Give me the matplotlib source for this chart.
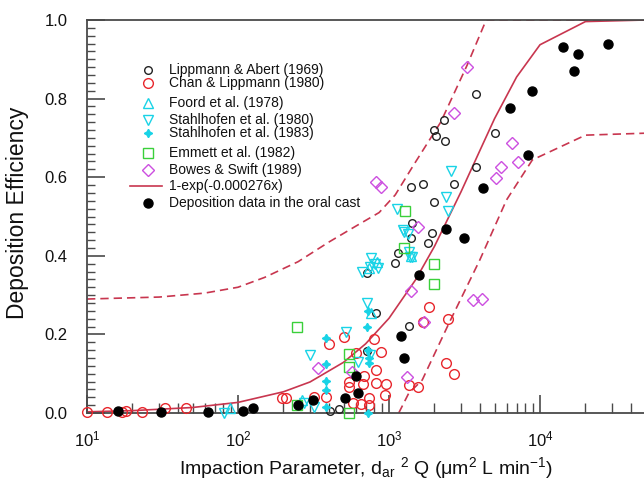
import matplotlib
matplotlib.use('Agg')
import matplotlib.pyplot as plt
from matplotlib.ticker import LogLocator, MultipleLocator, NullFormatter

plt.rcParams['font.family'] = ['Liberation Sans', 'DejaVu Sans']
plt.rcParams['mathtext.fontset'] = 'custom'
plt.rcParams['mathtext.rm'] = 'Liberation Sans'
plt.rcParams['mathtext.it'] = 'Liberation Sans:italic'
plt.rcParams['mathtext.default'] = 'regular'

# --- data ---
lipp_x = [3770, 2300, 2000, 2050, 2350, 5000, 3770, 1400, 1680, 2700, 2000, 1410,
          1400, 1930, 1820, 1150, 1100, 1350, 710, 815, 710, 405, 465]
lipp_y = [0.812, 0.746, 0.720, 0.706, 0.692, 0.712, 0.626, 0.575, 0.583, 0.583, 0.537, 0.483,
          0.445, 0.458, 0.433, 0.407, 0.382, 0.221, 0.356, 0.254, 0.158, 0.005, 0.010]

chan_x = [10, 13.6, 17, 18, 23, 33, 45, 196, 207, 320, 380, 400, 500, 600, 790, 890, 815,
          680, 540, 540, 670, 815, 960, 940, 740, 650, 740, 575, 1840, 1680, 2460, 1350,
          1550, 2400, 2700]
chan_y = [0.003, 0.003, 0.003, 0.005, 0.003, 0.013, 0.013, 0.038, 0.038, 0.040, 0.040, 0.176,
          0.193, 0.153, 0.188, 0.155, 0.109, 0.094, 0.079, 0.066, 0.074, 0.076, 0.074, 0.046,
          0.038, 0.023, 0.020, 0.025, 0.270, 0.232, 0.239, 0.071, 0.066, 0.127, 0.099]

foord_x = [88, 265, 760, 830, 740, 1400]
foord_y = [0.013, 0.033, 0.254, 0.384, 0.370, 0.400]

st80_x = [710, 300, 520, 620, 750, 320, 275, 660, 760, 810, 840, 750, 1130, 1260,
          1420, 1350, 2580, 2400, 2450, 1230, 1330, 1380, 81]
st80_y = [0.280, 0.148, 0.206, 0.130, 0.148, 0.015, 0.025, 0.360, 0.394, 0.380, 0.370, 0.372,
          0.519, 0.460, 0.397, 0.410, 0.616, 0.550, 0.514, 0.466, 0.455, 0.397, 0.0]

st83_x = [380, 380, 380, 380, 380, 725, 720, 730, 740, 740, 730]
st83_y = [0.190, 0.125, 0.082, 0.058, 0.015, 0.260, 0.220, 0.160, 0.140, 0.127, 0.0]

emm_x = [245, 540, 540, 245, 540, 1270, 1250, 2000, 2000]
emm_y = [0.220, 0.150, 0.117, 0.020, 0.0, 0.514, 0.420, 0.379, 0.328]

bowes_x = [3300, 2700, 6500, 7100, 5500, 5100, 820, 890, 1560, 1400, 1700, 3600, 4100,
           1320, 340, 570]
bowes_y = [0.880, 0.763, 0.687, 0.639, 0.626, 0.598, 0.588, 0.575, 0.473, 0.310, 0.232,
           0.288, 0.290, 0.092, 0.115, 0.104]

cast_x = [16, 31, 63, 108, 126, 250, 315, 510, 620, 600, 1200, 1260, 1590, 2400, 3150,
          4200, 6300, 8300, 8900, 14100, 17800, 16800, 28000]
cast_y = [0.005, 0.002, 0.003, 0.004, 0.013, 0.020, 0.033, 0.038, 0.050, 0.094, 0.196,
          0.140, 0.351, 0.468, 0.445, 0.573, 0.776, 0.656, 0.819, 0.931, 0.913, 0.870, 0.939]

# fitted curve 1-exp(-0.000276x) and its bounds
fit_x = [10, 20, 50, 100, 200, 300, 500, 700, 1000, 1500, 2000, 3000, 4000, 5000, 7000,
         10000, 20000, 50000]
fit_y = [0.003, 0.006, 0.014, 0.027, 0.054, 0.079, 0.129, 0.176, 0.241, 0.339, 0.424,
         0.563, 0.668, 0.749, 0.855, 0.937, 0.996, 1.0]
up_x = [10, 30, 60, 100, 150, 250, 400, 600, 860, 1100, 1450, 2200, 3300, 4400, 50000]
up_y = [0.29, 0.295, 0.305, 0.32, 0.345, 0.385, 0.435, 0.475, 0.51, 0.555, 0.63, 0.74,
        0.886, 1.0, 1.0]
lo_x = [1160, 1350, 1660, 2500, 4000, 6000, 8900, 20000, 50000]
lo_y = [0.0, 0.05, 0.084, 0.229, 0.39, 0.542, 0.644, 0.707, 0.712]

CURVE = '#c8364f'
CYAN = '#19d3e6'
RED = '#e8262c'
GREEN = '#3ad03a'
MAG = '#cc4fe0'

fig = plt.figure(figsize=(6.44, 4.84), dpi=100)
ax = fig.add_axes([87 / 644, 71 / 484, 557 / 644, 393 / 484])

ax.plot(fit_x, fit_y, color=CURVE, lw=1.2, zorder=2)
ax.plot(up_x, up_y, color=CURVE, lw=1.2, ls=(0, (5, 3)), zorder=2)
ax.plot(lo_x, lo_y, color=CURVE, lw=1.2, ls=(0, (5, 3)), zorder=2)

mk = dict(ls='none', mfc='none', clip_on=False, zorder=3)
ax.plot(chan_x, chan_y, 'o', mec=RED, ms=7, mew=1.0, **mk)
ax.plot(lipp_x, lipp_y, 'o', mec='#222222', ms=5.5, mew=1.0, **mk)
ax.plot(foord_x, foord_y, '^', mec=CYAN, ms=7, mew=1.0, **mk)
ax.plot(st80_x, st80_y, 'v', mec=CYAN, ms=7, mew=1.0, **mk)
ax.plot(st83_x, st83_y, marker=(4, 1, 0), ls='none', color=CYAN, ms=6, clip_on=False, zorder=3)
ax.plot(emm_x, emm_y, 's', mec=GREEN, ms=6.5, mew=1.0, **mk)
ax.plot(bowes_x, bowes_y, 'D', mec=MAG, ms=6, mew=1.0, **mk)
ax.plot(cast_x, cast_y, 'o', ls='none', color='black', ms=6.5, clip_on=False, zorder=4)

ax.set_xscale('log')
ax.set_xlim(10, 10 ** (1 + 557 / 151))
ax.set_ylim(0, 1.0)
ax.xaxis.set_major_locator(LogLocator(base=10, numticks=10))
ax.xaxis.set_minor_locator(LogLocator(base=10, subs=range(2, 10), numticks=20))
ax.xaxis.set_minor_formatter(NullFormatter())
ax.yaxis.set_major_locator(MultipleLocator(0.2))
ax.yaxis.set_minor_locator(MultipleLocator(0.02))
ax.yaxis.set_major_formatter(lambda v, p: f'{v:.1f}')

ax.spines['right'].set_visible(False)
for s in ['left', 'bottom', 'top']:
    ax.spines[s].set_color('#4a4a4a')
    ax.spines[s].set_linewidth(1.3)
ax.tick_params(which='both', direction='in', color='#4a4a4a', top=False, right=False,
               labelsize=12, labelcolor='#111111')
ax.tick_params(axis='y', which='major', length=13, width=1.2, pad=14)
ax.tick_params(axis='y', which='minor', length=6, width=1.0)
ax.tick_params(axis='x', which='major', length=13, width=1.2, pad=12)
ax.tick_params(axis='x', which='minor', length=7, width=1.0)

fig.text(18 / 644, 1 - 213 / 484, 'Deposition Efficiency', rotation=90,
         ha='center', va='center', fontsize=16.5, color='#111111')
fig.text(366 / 644, 1 - 468 / 484,
         r'Impaction Parameter, d$_{ar}$ $^{2}$ Q ($\mu$m$^{2}$ L min$^{-1}$)',
         ha='center', va='center', fontsize=14, color='#111111')

# hand placed legend, as in the source figure
def fx(px):
    return px / 644


def fy(py):
    return 1 - py / 484


leg = [
    ('o', dict(mfc='none', mec='#222222', ms=5.5), 'Lippmann & Abert (1969)', 70),
    ('o', dict(mfc='none', mec=RED, ms=7), 'Chan & Lippmann (1980)', 83),
    ('^', dict(mfc='none', mec=CYAN, ms=7), 'Foord et al. (1978)', 103),
    ('v', dict(mfc='none', mec=CYAN, ms=7), 'Stahlhofen et al. (1980)', 120),
    ((4, 1, 0), dict(color=CYAN, ms=6), 'Stahlhofen et al. (1983)', 133),
    ('s', dict(mfc='none', mec=GREEN, ms=6.5), 'Emmett et al. (1982)', 153),
    ('D', dict(mfc='none', mec=MAG, ms=6), 'Bowes & Swift (1989)', 170),
    (None, None, '1-exp(-0.000276x)', 186),
    ('o', dict(color='black', ms=6.5), 'Deposition data in the oral cast', 203),
]
for m, kw, label, py in leg:
    if m is None:
        fig.add_artist(plt.Line2D([fx(130), fx(162)], [fy(py), fy(py)], color=CURVE, lw=1.2))
    else:
        fig.add_artist(plt.Line2D([fx(148)], [fy(py)], marker=m, ls='none', mew=1.0, **kw))
    fig.text(fx(169), fy(py), label, ha='left', va='center', fontsize=10, color='#111111')

fig.savefig('out.png', dpi=100)
